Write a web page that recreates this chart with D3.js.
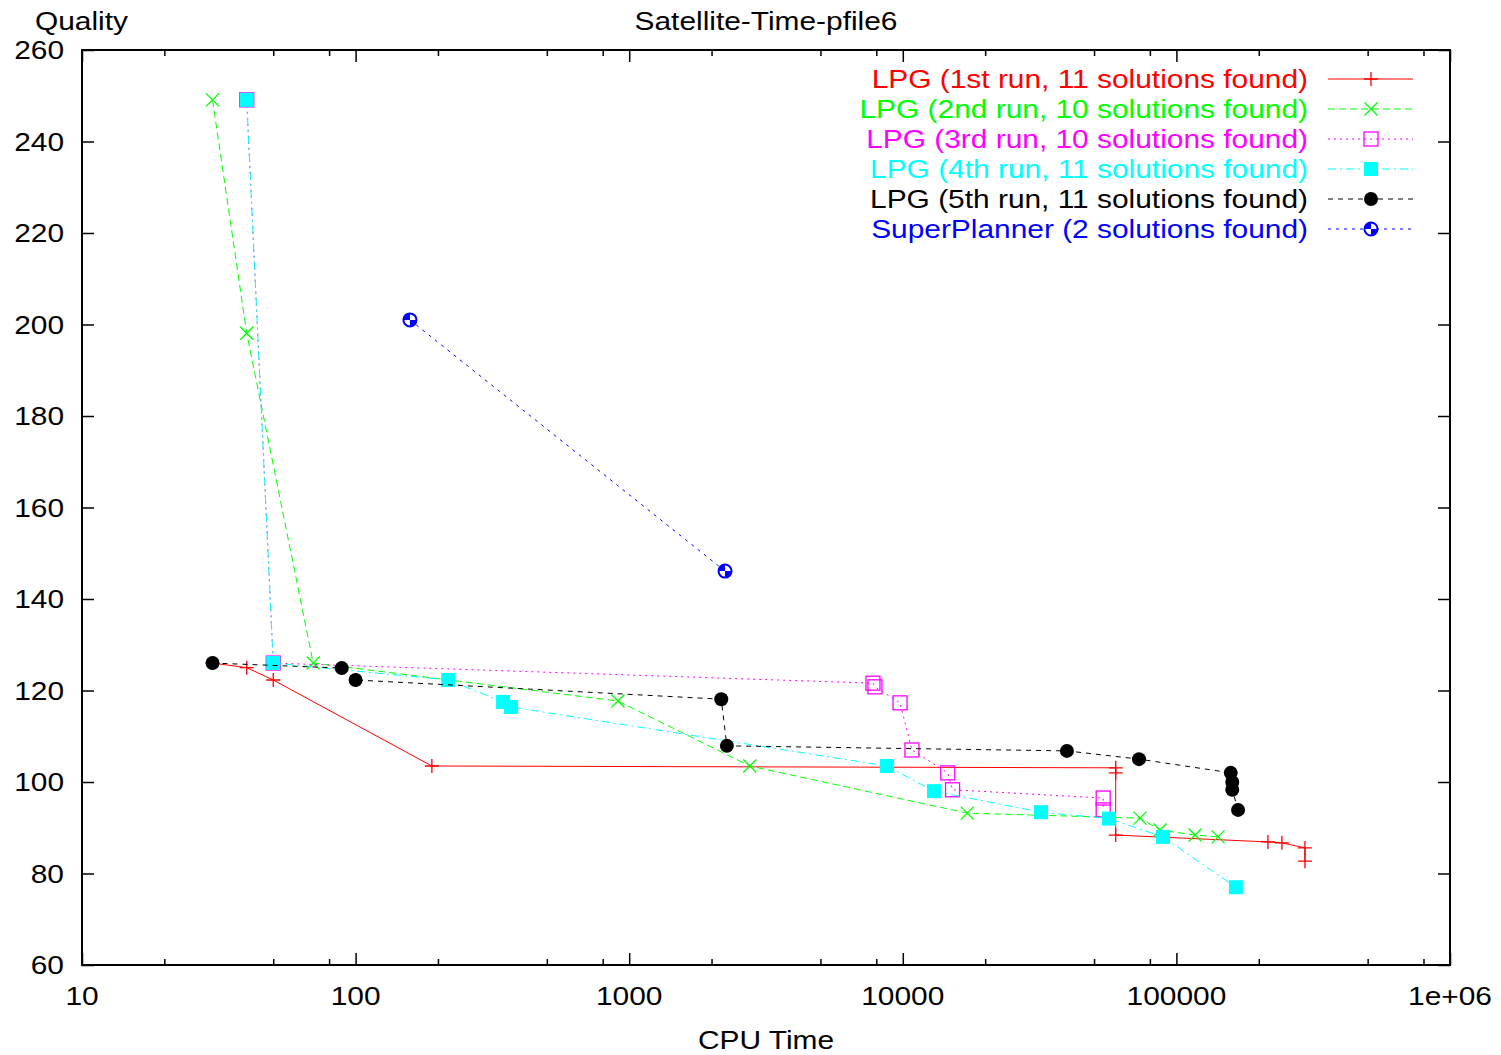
<!DOCTYPE html>
<html>
<head>
<meta charset="utf-8">
<script src="https://cdn.jsdelivr.net/npm/d3@7"></script>
<style>
  body { margin: 0; background: #fff; }
  svg text { font-family: "Liberation Sans", Arial, sans-serif; }
</style>
</head>
<body>
<svg id="chart" width="1501" height="1055"></svg>
<script>
//
// Data
//

var run1Time = [30, 40, 50, 190, 60000, 60000, 60000, 216000, 243000, 295000, 295000]
var run1Quality = [126, 125, 122.3, 103.5, 103.1, 102, 88.4, 86.9, 86.7, 85.6, 82.7]

var run2Time = [30, 40, 70, 910, 2760, 17200, 73600, 87100, 117000, 142000]
var run2Quality = [249.1, 198.1, 126, 117.7, 103.5, 93.2, 92.1, 89.5, 88.4, 88.0]

var run3Time = [40, 50, 7780, 7910, 9770, 10800, 14600, 15200, 54000, 54000]
var run3Quality = [249.1, 126, 121.6, 120.8, 117.3, 107, 102, 98.3, 96.5, 93.9]

var run4Time = [40, 50, 218, 346, 370, 8750, 13000, 32000, 56700, 89300, 165000]
var run4Quality = [249.1, 126, 122.3, 117.5, 116.4, 103.5, 98, 93.4, 92, 88, 77]

var run5Time = [30, 89, 100, 2170, 2275, 39800, 73000, 158000, 160000, 160000, 168000]
var run5Quality = [126, 124.9, 122.3, 118.1, 107.9, 106.8, 105, 102, 100, 98.3, 93.9]

var superTime = [158, 2240]
var superQuality = [201, 146.1]

var seriesNames = [
  'LPG (1st run, 11 solutions found)',
  'LPG (2nd run, 10 solutions found)',
  'LPG (3rd run, 10 solutions found)',
  'LPG (4th run, 11 solutions found)',
  'LPG (5th run, 11 solutions found)',
  'SuperPlanner (2 solutions found)'
]

var xTicks = [10, 100, 1000, 10000, 100000, 1000000]
var xTickLabels = ['10', '100', '1000', '10000', '100000', '1e+06']
var xMinorSteps = [2, 5, 8]
var yTicks = [60, 80, 100, 120, 140, 160, 180, 200, 220, 240, 260]

//
// Configuration
//

// plot frame in pixels (don't call these top/left: window.top is read-only)
var plotLeft = 82, plotRight = 1450, plotTop = 50, plotBottom = 965
var fontSize = 26
var stretch = 1.15
var majorTick = 12
var minorTick = 6

var styles = [
  { color: '#ff0000', dash: null, marker: 'plus' },
  { color: '#00ff00', dash: '7,4', marker: 'cross' },
  { color: '#ff00ff', dash: '2,4', marker: 'openSquare' },
  { color: '#00ffff', dash: '8,4,2,4', marker: 'square' },
  { color: '#000000', dash: '5,5', marker: 'circle' },
  { color: '#0000ff', dash: '3,5', marker: 'ball' }
]

//
// Variables
//

var svg = d3.select('#chart')
var x = d3.scaleLog().domain([10, 1e6]).range([plotLeft, plotRight])
var y = d3.scaleLinear().domain([60, 260]).range([plotBottom, plotTop])
var line = d3.line()
  .x(function(d) { return x(d[0]) })
  .y(function(d) { return y(d[1]) })

var series = [
  d3.zip(run1Time, run1Quality),
  d3.zip(run2Time, run2Quality),
  d3.zip(run3Time, run3Quality),
  d3.zip(run4Time, run4Quality),
  d3.zip(run5Time, run5Quality),
  d3.zip(superTime, superQuality)
]

var minorTicks = []
for (var e = 10; e < 1e6; e *= 10) {
  xMinorSteps.forEach(function(m) { minorTicks.push(e * m) })
}

//
// Functions
//

function label(g, px, py, txt, anchor, color) {
  g.append('text')
    .attr('transform', 'translate(' + px + ',' + py + ') scale(' + stretch + ',1)')
    .attr('text-anchor', anchor)
    .attr('font-size', fontSize)
    .attr('fill', color || '#000')
    .text(txt)
}

function drawMarker(g, px, py, kind, color) {
  var m = g.append('g').attr('transform', 'translate(' + px + ',' + py + ')')
  if (kind === 'plus') {
    m.append('path').attr('d', 'M-7,0H7M0,-7V7').attr('stroke', color).attr('stroke-width', 1.3)
  } else if (kind === 'cross') {
    m.append('path').attr('d', 'M-6.5,-6.5L6.5,6.5M-6.5,6.5L6.5,-6.5').attr('stroke', color).attr('stroke-width', 1.3)
  } else if (kind === 'openSquare') {
    m.append('rect').attr('x', -7).attr('y', -7).attr('width', 14).attr('height', 14)
      .attr('fill', 'none').attr('stroke', color).attr('stroke-width', 1.3)
  } else if (kind === 'square') {
    m.append('rect').attr('x', -7).attr('y', -7).attr('width', 14).attr('height', 14)
      .attr('fill', color)
  } else if (kind === 'circle') {
    m.append('circle').attr('r', 7).attr('fill', color)
  } else if (kind === 'ball') {
    m.append('circle').attr('r', 6.5).attr('fill', '#fff').attr('stroke', color).attr('stroke-width', 2)
    m.append('path')
      .attr('d', 'M0,0L-6.5,0A6.5,6.5 0 0,1 0,-6.5ZM0,0L6.5,0A6.5,6.5 0 0,1 0,6.5Z')
      .attr('fill', color)
  }
}

function tickAxis(axis, tx, ty, values, size) {
  svg.append('g')
    .attr('transform', 'translate(' + tx + ',' + ty + ')')
    .call(axis.tickValues(values).tickSizeInner(size).tickSizeOuter(0).tickFormat(''))
    .call(function(g) {
      g.select('.domain').remove()
      g.selectAll('line').attr('stroke', '#000').attr('stroke-width', 1.5)
    })
}

//
// Axes and frame
//

tickAxis(d3.axisBottom(x), 0, plotBottom, xTicks, -majorTick)
tickAxis(d3.axisTop(x), 0, plotTop, xTicks, -majorTick)
tickAxis(d3.axisBottom(x), 0, plotBottom, minorTicks, -minorTick)
tickAxis(d3.axisTop(x), 0, plotTop, minorTicks, -minorTick)
tickAxis(d3.axisLeft(y), plotLeft, 0, yTicks, -majorTick)
tickAxis(d3.axisRight(y), plotRight, 0, yTicks, -majorTick)

svg.append('rect')
  .attr('x', plotLeft).attr('y', plotTop)
  .attr('width', plotRight - plotLeft).attr('height', plotBottom - plotTop)
  .attr('fill', 'none').attr('stroke', '#000').attr('stroke-width', 2)

var labels = svg.append('g')
xTicks.forEach(function(t, i) {
  label(labels, x(t), plotBottom + 40, xTickLabels[i], 'middle')
})
yTicks.forEach(function(t) {
  label(labels, plotLeft - 18, y(t) + 9, String(t), 'end')
})
label(labels, 35, 30, 'Quality', 'start')
label(labels, 766, 30, 'Satellite-Time-pfile6', 'middle')
label(labels, 766, 1049, 'CPU Time', 'middle')

//
// Series
//

series.forEach(function(points, i) {
  var s = styles[i]
  var g = svg.append('g')
  g.append('path')
    .attr('d', line(points))
    .attr('fill', 'none')
    .attr('stroke', s.color)
    .attr('stroke-width', 1)
    .attr('stroke-dasharray', s.dash)
  points.forEach(function(p) {
    drawMarker(g, x(p[0]), y(p[1]), s.marker, s.color)
  })
})

//
// Legend
//

var legend = svg.append('g')
seriesNames.forEach(function(name, i) {
  var s = styles[i]
  var ly = 79 + 30 * i
  label(legend, 1308, ly + 9, name, 'end', s.color)
  legend.append('line')
    .attr('x1', 1328).attr('x2', 1413).attr('y1', ly).attr('y2', ly)
    .attr('stroke', s.color).attr('stroke-width', 1)
    .attr('stroke-dasharray', s.dash)
  drawMarker(legend, 1371, ly, s.marker, s.color)
})
</script>
</body>
</html>
